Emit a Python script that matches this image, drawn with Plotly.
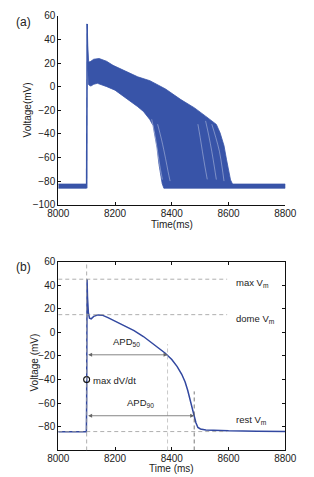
import plotly.graph_objects as go

W, H = 314, 477

# ---------------- Panel (a): ensemble of action potentials (envelope) ----------------
a_rest_t = [8000, 8099, 8099, 8000]
a_rest_v = [-82.5, -82.5, -86, -86]
a_up_t = [8100, 8102]
a_up_v = [-86, 53]
# upper envelope (left -> right)
a_upper_t = [8100, 8102, 8104, 8107, 8112, 8125, 8144, 8170, 8193, 8240, 8280, 8323, 8378,
             8432, 8480, 8519, 8545, 8557, 8570, 8584, 8593, 8601, 8607, 8614, 8800]
a_upper_v = [53, 53, 35, 21, 21, 23.2, 23.8, 21.5, 18, 13, 8.3, 5, -2,
             -11, -18, -25, -29.5, -32, -39, -50, -62, -72, -79, -82.5, -82.5]
# lower envelope (right -> left)
a_lower_t = [8800, 8372, 8366, 8361, 8355, 8348, 8340, 8334, 8323, 8300, 8280, 8258, 8225,
             8200, 8171, 8150, 8138, 8125, 8115, 8110, 8106, 8104, 8102]
a_lower_v = [-86, -86, -82, -76, -66, -52, -40, -33, -28, -21, -17, -13, -7,
             -3, 0, 2, 2.8, 2, 0.5, 1, 2, 15, 45]
# sparse gaps between individual traces (white streaks in the bundle)
gap_t = [[8329, 8340, 8350, 8360, 8367],
         [8350, 8364, 8378, 8387, 8394],
         [8492, 8500, 8508, 8517, 8525],
         [8519, 8530, 8541, 8550, 8557],
         [8541, 8555, 8568, 8577, 8584]]
gap_v = [[-27.6, -40, -55, -70, -78.7],
         [-31.8, -45, -60.8, -72, -80],
         [-31.8, -43, -55, -68, -78.5],
         [-29, -41, -55, -68, -78.7],
         [-31.8, -43, -55, -68, -80]]

# ---------------- Panel (b): single action potential ----------------
b_t = [8000, 8099, 8100, 8100.5, 8101.5, 8103, 8106, 8110, 8116, 8125, 8140, 8155, 8175, 8200,
       8230, 8267, 8300, 8321, 8350, 8376, 8400, 8419, 8435, 8447, 8456, 8463, 8469, 8474,
       8479, 8485, 8492, 8501, 8520, 8560, 8600, 8700, 8800]
b_v = [-84.2, -84.2, -60, -40, 45, 30, 17, 12, 11.5, 13.5, 14.8, 14.6, 12.5, 9.5,
       6, 1.5, -3.5, -7.5, -12.5, -17.5, -23, -29, -35.5, -42, -49, -56, -62, -66,
       -71, -76.5, -80.5, -81.8, -82.6, -83.1, -83.4, -83.8, -84]

max_vm, dome_vm, rest_vm = 45, 15, -84
t_stim, t_apd50, t_apd90 = 8100, 8385, 8479
v_apd50, v_apd90 = -19, -70.6
dvdt_point = (8100, -40)

blue = "rgb(56,84,168)"
font = "Liberation Sans, Arial, sans-serif"
txt = "#222"

fig = go.Figure()

# panel (a)
fig.add_trace(go.Scatter(x=a_rest_t, y=a_rest_v, fill="toself", fillcolor=blue,
                         line=dict(color=blue, width=0.8), mode="lines",
                         xaxis="x", yaxis="y", showlegend=False, hoverinfo="skip"))
fig.add_trace(go.Scatter(x=a_upper_t + a_lower_t, y=a_upper_v + a_lower_v, fill="toself",
                         fillcolor=blue, line=dict(color=blue, width=0.8), mode="lines",
                         xaxis="x", yaxis="y", showlegend=False, hoverinfo="skip"))
fig.add_trace(go.Scatter(x=a_up_t, y=a_up_v, mode="lines", line=dict(color=blue, width=1.6),
                         xaxis="x", yaxis="y", showlegend=False, hoverinfo="skip"))
for gt, gv in zip(gap_t, gap_v):
    fig.add_trace(go.Scatter(x=gt, y=gv, mode="lines",
                             line=dict(color="rgba(255,255,255,0.7)", width=0.5, shape="spline"),
                             xaxis="x", yaxis="y", showlegend=False, hoverinfo="skip"))

# panel (b)
fig.add_trace(go.Scatter(x=b_t, y=b_v, mode="lines", line=dict(color="rgb(50,72,160)", width=1.5),
                         xaxis="x2", yaxis="y2", showlegend=False, hoverinfo="skip"))
fig.add_trace(go.Scatter(x=[dvdt_point[0]], y=[dvdt_point[1]], mode="markers",
                         marker=dict(symbol="circle-open", size=6, color="#111", line=dict(width=1.1)),
                         xaxis="x2", yaxis="y2", showlegend=False, hoverinfo="skip"))

shapes = []
gray = "#9a9a9a"
for v in (max_vm, dome_vm, rest_vm):
    shapes.append(dict(type="line", xref="x2", yref="y2", x0=8000, x1=8595, y0=v, y1=v,
                       line=dict(color=gray, width=0.8, dash="4px,3px")))
shapes.append(dict(type="line", xref="x2", yref="y2", x0=t_stim, x1=t_stim, y0=-100, y1=60,
                   line=dict(color=gray, width=0.8, dash="4px,3px")))
shapes.append(dict(type="line", xref="x2", yref="y2", x0=t_apd50, x1=t_apd50, y0=-100, y1=-10,
                   line=dict(color="#bbbbbb", width=0.8, dash="4px,3px")))
shapes.append(dict(type="line", xref="x2", yref="y2", x0=t_apd90, x1=t_apd90, y0=-100, y1=-50,
                   line=dict(color="#555", width=0.8, dash="4px,3px")))

ann = []
for (t_end, v) in ((t_apd50, v_apd50), (t_apd90, v_apd90)):
    ann.append(dict(x=t_end, y=v, ax=t_stim, ay=v, xref="x2", yref="y2", axref="x2", ayref="y2",
                    text="", showarrow=True, arrowhead=2, startarrowhead=2, arrowside="end+start",
                    arrowsize=1, arrowwidth=0.8, arrowcolor="#666"))

def label(x, y, text, xanchor="left", size=9.5, xref="x2", yref="y2", yanchor="middle", angle=0):
    ann.append(dict(x=x, y=y, xref=xref, yref=yref, text=text, showarrow=False,
                    xanchor=xanchor, yanchor=yanchor, textangle=angle,
                    font=dict(family=font, size=size, color=txt)))

label(8619, 42, "max V<sub>m</sub>")
label(8619, 11, "dome V<sub>m</sub>")
label(8619, -74, "rest V<sub>m</sub>")
label(8242, -8, "APD<sub>50</sub>", xanchor="center")
label(8290, -60, "APD<sub>90</sub>", xanchor="center")
label(8117, -40.5, "max dV/dt")

# panel letters and axis titles (paper coordinates)
label(3 / W, 1 - 17 / H, "(a)", size=12, xref="paper", yref="paper")
label(3 / W, 1 - 268 / H, "(b)", size=12, xref="paper", yref="paper")
label(17.5 / W, 1 - 107.5 / H, "Voltage(mV)", xanchor="center", size=10, xref="paper", yref="paper", angle=-90)
label(173.5 / W, 1 - 224 / H, "Time(ms)", xanchor="center", size=10, xref="paper", yref="paper")
label(25 / W, 1 - 365 / H, "Voltage (mV)", xanchor="center", size=10, xref="paper", yref="paper", angle=-90)
label(173.5 / W, 1 - 473.5 / H, "Time (ms)", xanchor="center", size=10, xref="paper", yref="paper")

x_ticks = [8000, 8200, 8400, 8600, 8800]
ya_ticks = [-100, -80, -60, -40, -20, 0, 20, 40, 60]
yb_ticks = [-80, -60, -40, -20, 0, 20, 40, 60]

axis_common = dict(showgrid=False, zeroline=False, showline=True, linecolor="#111", linewidth=1,
                   ticks="inside", ticklen=3, tickcolor="#111", tickwidth=1,
                   tickfont=dict(family=font, size=10, color=txt))

xd = [51 / W, 296 / W]
fig.update_layout(
    width=W, height=H, margin=dict(l=0, r=0, t=0, b=0),
    paper_bgcolor="white", plot_bgcolor="white", showlegend=False,
    xaxis=dict(domain=xd, anchor="y", range=[8000, 8800], tickvals=x_ticks, ticklabelstandoff=-1, **axis_common),
    yaxis=dict(domain=[1 - 204 / H, 1 - 11 / H], anchor="x", range=[-100, 60], tickvals=ya_ticks, **axis_common),
    xaxis2=dict(domain=xd, anchor="y2", range=[8000, 8800], tickvals=x_ticks, mirror="ticks",
                ticklabelstandoff=-1, **axis_common),
    yaxis2=dict(domain=[1 - 455 / H, 1 - 262 / H], anchor="x2", range=[-100, 60], tickvals=yb_ticks,
                mirror="ticks", **axis_common),
    shapes=shapes, annotations=ann,
)

fig.write_html("out.html")
